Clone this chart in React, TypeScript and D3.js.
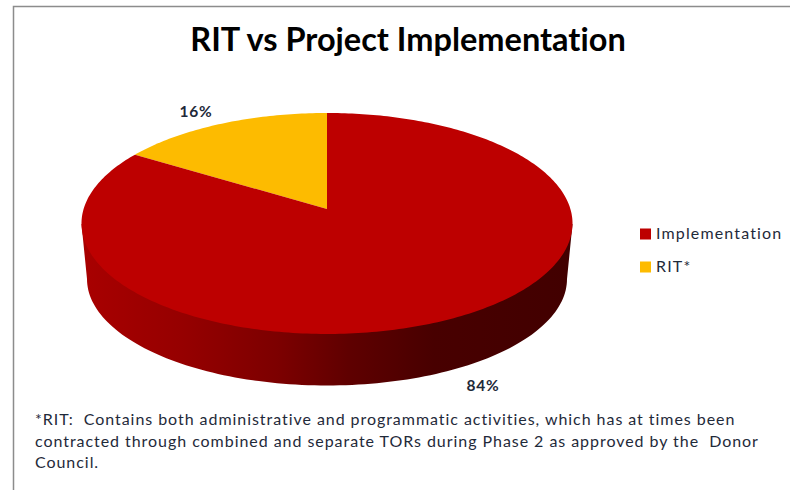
import React from "react";
import * as d3 from "d3";

const categories = ["RIT*", "Implementation"];
const values = [16, 84];
const sliceColors = ["#fdbb00", "#bd0000"];
const legendOrder = ["Implementation", "RIT*"];
const labels = ["16%", "84%"];
const titleText = "RIT vs Project Implementation";
const noteLines = [
  "*RIT:  Contains both administrative and programmatic activities, which has at times been",
  "contracted through combined and separate TORs during Phase 2 as approved by the  Donor",
  "Council.",
];

const W = 790, H = 490;
const apex = { x: 327, y: 209 };
const persp = { a: 108.6, b: -0.131, c: 243.4 };

function project(theta: number, r = 1): [number, number] {
  const u = Math.sin(theta) * r;
  const v = -Math.cos(theta) * r;
  const d = 1 + persp.b * v;
  return [apex.x + (persp.c * u) / d, apex.y + (persp.a * v) / d];
}

const pieGen = d3.pie<number>().sort(null).startAngle(-(16 / 100) * 2 * Math.PI).endAngle(2 * Math.PI - (16 / 100) * 2 * Math.PI);
const arcs = pieGen(values);
const line = d3.line<[number, number]>();

function slicePath(a0: number, a1: number) {
  const n = Math.max(8, Math.round((a1 - a0) * 60));
  const pts: [number, number][] = [[apex.x, apex.y]];
  d3.range(n + 1).forEach((i) => pts.push(project(a0 + ((a1 - a0) * i) / n)));
  return line(pts) + "Z";
}

const lower = { cx: 327, cy: 279, rx: 240, ry: 106.5 };
const upperMid = 224;
function wallPath() {
  const pts: [number, number][] = [[81.5, upperMid]];
  d3.range(0, 121).forEach((i) => {
    const t = Math.PI - (Math.PI * i) / 120;
    pts.push([lower.cx + lower.rx * Math.cos(t), lower.cy + lower.ry * Math.sin(t)]);
  });
  pts.push([572.5, upperMid]);
  return line(pts) + "Z";
}

const font = "Lato, Carlito, sans-serif";
const textColor = "#1f2a3a";

export default function App() {
  return (
    <svg width={W} height={H} style={{ position: "fixed", left: 0, top: 0, background: "#fff" }}>
      <defs>
        <linearGradient id="wall" gradientUnits="userSpaceOnUse" x1={84} x2={570} y1={0} y2={0}>
          <stop offset="0" stopColor="#a80000" />
          <stop offset="0.2" stopColor="#960000" />
          <stop offset="0.4" stopColor="#7c0000" />
          <stop offset="0.55" stopColor="#5e0000" />
          <stop offset="0.72" stopColor="#480000" />
          <stop offset="1" stopColor="#420000" />
        </linearGradient>
      </defs>
      <rect x={13.5} y={6.5} width={900} height={900} fill="#fff" stroke="#8c8c8c" strokeWidth={1.5} />
      <text x={408} y={51} textAnchor="middle" fontFamily={font} fontWeight={700} fontSize={32.5} fill="#000" style={{ fontVariantLigatures: "none" }}>{titleText}</text>
      <path d={wallPath()} fill="url(#wall)" />
      {arcs.map((a, i) => (
        <path key={categories[i]} d={slicePath(a.startAngle, a.endAngle)} fill={sliceColors[i]} />
      ))}
      <text x={196} y={117} textAnchor="middle" fontFamily={font} fontWeight={700} fontSize={15.5} letterSpacing={0.8} fill={textColor}>{labels[0]}</text>
      <text x={483} y={391} textAnchor="middle" fontFamily={font} fontWeight={700} fontSize={15.5} letterSpacing={0.8} fill={textColor}>{labels[1]}</text>
      {legendOrder.map((c, i) => (
        <g key={c} transform={`translate(640,${228.5 + i * 33})`}>
          <rect width={11} height={11} fill={sliceColors[categories.indexOf(c)]} />
          <text x={16} y={10.5} fontFamily={font} fontSize={16} letterSpacing={1.15} fill={textColor}>{c}</text>
        </g>
      ))}
      {noteLines.map((t, i) => (
        <text key={i} x={35} y={425 + i * 21.6} fontFamily={font} fontSize={16} letterSpacing={0.95} fill={textColor} style={{ whiteSpace: "pre" }}>{t}</text>
      ))}
    </svg>
  );
}
